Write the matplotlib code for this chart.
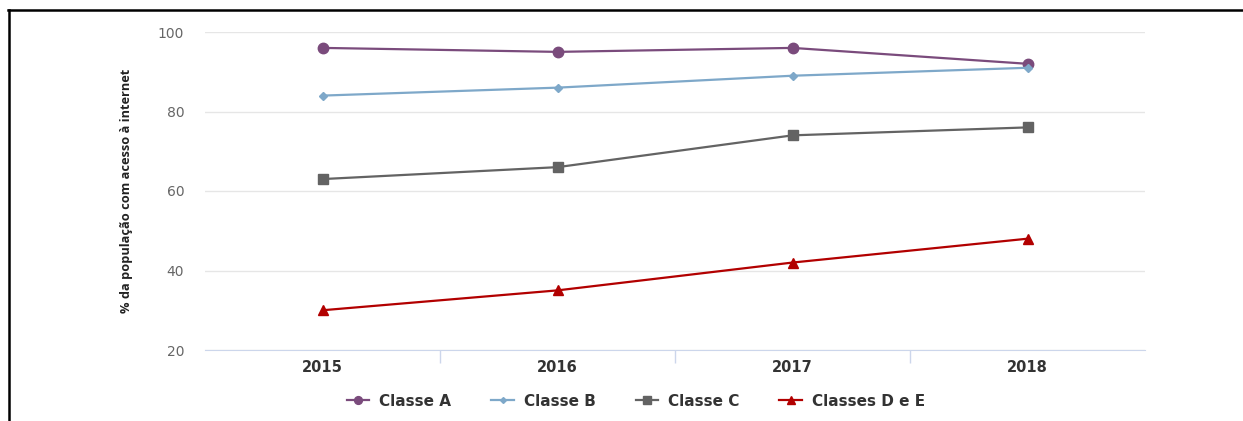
import matplotlib
matplotlib.use("Agg")
import matplotlib.pyplot as plt
from matplotlib.lines import Line2D
from matplotlib import font_manager

anos = ["2015", "2016", "2017", "2018"]
classe_a = [96, 95, 96, 92]
classe_b = [84, 86, 89, 91]
classe_c = [63, 66, 74, 76]
classes_de = [30, 35, 42, 48]

series = [
    ("Classe A", classe_a, "#7a4b7c", "o", 7.5),
    ("Classe B", classe_b, "#7ea8c9", "D", 4.0),
    ("Classe C", classe_c, "#636363", "s", 7.5),
    ("Classes D e E", classes_de, "#b20000", "^", 7.5),
]

nomes = {f.name for f in font_manager.fontManager.ttflist}
fonte_rotulo = "Open Sans" if "Open Sans" in nomes else "DejaVu Sans"
fonte_larga = "DejaVu Sans"

W, H = 1243, 421
fig = plt.figure(figsize=(W / 100, H / 100), dpi=100)
ax = fig.add_axes([205 / W, 1 - 350 / H, 940 / W, 318 / H])

x = list(range(len(anos)))
for nome, vals, cor, mk, ms in series:
    ax.plot(x, vals, color=cor, marker=mk, markersize=ms, linewidth=1.6,
            label=nome, markeredgecolor=cor)

ax.set_xlim(-0.5, len(anos) - 0.5)
ax.set_ylim(20, 100)
ax.set_yticks([20, 40, 60, 80, 100])
ax.set_xticks(x)
ax.set_xticklabels(anos, fontfamily=fonte_larga, fontweight="bold", fontsize=10.5, color="#333333")
ax.set_xticks([0.5, 1.5, 2.5], minor=True)
ax.tick_params(axis="x", which="major", length=0, pad=7)
ax.tick_params(axis="x", which="minor", length=9, color="#ccd6eb", width=1)
ax.tick_params(axis="y", length=0, pad=15, labelsize=10, labelcolor="#666666")
for t in ax.get_yticklabels():
    t.set_fontfamily(fonte_larga)

ax.grid(axis="y", color="#e6e6e6", linewidth=1)
ax.set_axisbelow(True)
for lado in ["top", "right", "left"]:
    ax.spines[lado].set_visible(False)
ax.spines["bottom"].set_color("#ccd6eb")

ax.set_ylabel("% da população com acesso à internet", fontfamily=fonte_rotulo,
              fontsize=9.2, fontweight="bold", color="#222222", labelpad=18)

leg = fig.legend(loc="center", bbox_to_anchor=(636 / W, 1 - 401 / H), ncol=4,
                 frameon=False, handlelength=1.5, columnspacing=2.6, handletextpad=0.65,
                 markerscale=0.75,
                 prop={"family": fonte_larga, "weight": "bold", "size": 11})
for t in leg.get_texts():
    t.set_color("#333333")

# moldura preta parcial (topo e lado esquerdo)
fig.add_artist(Line2D([8 / W, 1], [1 - 10 / H, 1 - 10 / H], color="black", linewidth=1.8))
fig.add_artist(Line2D([9 / W, 9 / W], [0, 1 - 10 / H], color="black", linewidth=1.8))

fig.savefig("out.png", dpi=100)
